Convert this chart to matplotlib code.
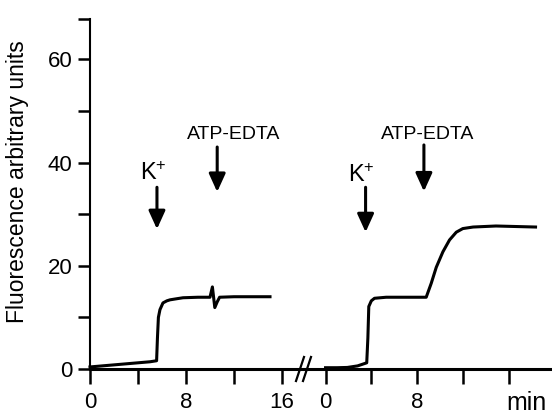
import matplotlib
matplotlib.use('Agg')
import matplotlib.pyplot as plt
from matplotlib.lines import Line2D

plt.rcParams['font.family'] = 'Liberation Sans'
plt.rcParams['mathtext.fontset'] = 'custom'
plt.rcParams['mathtext.rm'] = 'Liberation Sans'
plt.rcParams['mathtext.it'] = 'Liberation Sans'

# run 1: K+ added, then ATP-EDTA (no further change)
t_a = [0, 1, 2, 3, 4, 5, 5.55, 5.62, 5.7, 5.83, 6.08, 6.4, 6.67, 7.2, 7.75,
       9, 10.0, 10.2, 10.4, 10.6, 10.8, 12, 13, 14, 15]
f_a = [0.4, 0.6, 0.8, 1.0, 1.2, 1.4, 1.6, 6.0, 10.0, 11.5, 12.8, 13.2, 13.4, 13.6, 13.8,
       13.9, 13.9, 15.9, 11.9, 13.0, 13.9, 14.0, 14.0, 14.0, 14.0]

# run 2: K+ added, then ATP-EDTA gives a second rise
t_b = [0, 1, 1.9, 2.8, 3.6, 3.7, 3.78, 4.0, 4.28, 5.3, 7, 8.8,
       9.24, 9.68, 10.26, 10.84, 11.43, 12.0, 12.9, 14.9, 18.36]
f_b = [0.25, 0.25, 0.3, 0.6, 1.2, 6.0, 12.1, 13.2, 13.7, 13.9, 13.9, 13.9,
       16.6, 19.7, 22.7, 25.0, 26.5, 27.2, 27.5, 27.7, 27.5]

# additions: (time, arrow tail level, arrow tip level)
k_a = (5.58, 35.2, 27.1)
atp_a = (10.6, 43.0, 34.3)
k_b = (3.5, 35.2, 26.5)
atp_b = (8.6, 43.4, 34.4)

W, H = 552, 415
fig = plt.figure(figsize=(W / 100, H / 100), dpi=100)
bottom = (H - 369) / H
height = (369 - 19.5) / H
ax1 = fig.add_axes([90 / W, bottom, (303.6 - 90) / W, height])
ax2 = fig.add_axes([303.6 / W, bottom, (552 - 303.6) / W, height])

for ax in (ax1, ax2):
    ax.set_ylim(0, 67.7)
    ax.spines['top'].set_visible(False)
    ax.spines['right'].set_visible(False)
    ax.spines['bottom'].set_linewidth(2.2)
    ax.patch.set_visible(False)
    ax.tick_params(axis='x', which='both', direction='out', length=10.5, width=1.8,
                   labelsize=16, pad=6)

ax1.set_xlim(0, 17.8)
ax2.set_xlim(-1.92, 19.8)

ax1.spines['left'].set_linewidth(1.5)
ax1.set_yticks([0, 20, 40, 60])
ax1.set_yticks([10, 30, 50, 67.7], minor=True)
ax1.tick_params(axis='y', which='both', direction='out', length=8.6, width=1.8,
                labelsize=16, pad=4)
ax1.set_xticks([0, 8, 16])
ax1.set_xticks([4, 12], minor=True)
ax1.set_ylabel('Fluorescence arbitrary units', fontsize=16.5)
ax1.yaxis.set_label_coords(-0.285, 0.535)

ax2.spines['left'].set_visible(False)
ax2.set_yticks([])
ax2.set_xticks([0, 8])
ax2.set_xticks([4, 12, 16], minor=True)
ax2.text(17.6, -7.9, 'min', fontsize=18, ha='center', va='baseline')

ax1.plot(t_a, f_a, color='k', lw=2.2, clip_on=False, solid_joinstyle='round')
ax2.plot(t_b, f_b, color='k', lw=2.2, clip_on=False, solid_joinstyle='round')

arrow = dict(arrowstyle='-|>,head_width=0.5,head_length=1.1', lw=2.2, color='k',
             shrinkA=0, shrinkB=0, mutation_scale=10)
for ax, (t, y1, y2) in [(ax1, k_a), (ax1, atp_a), (ax2, k_b), (ax2, atp_b)]:
    ax.annotate('', xy=(t, y2), xytext=(t, y1), arrowprops=arrow, annotation_clip=False)

ax1.text(4.17, 36.6, 'K$^{+}$', fontsize=17, ha='left', va='baseline')
ax2.text(1.92, 36.2, 'K$^{+}$', fontsize=17, ha='left', va='baseline')
ax1.text(12.0, 44.6, 'ATP-EDTA', fontsize=14, ha='center', va='baseline')
ax2.text(8.92, 44.6, 'ATP-EDTA', fontsize=14, ha='center', va='baseline')

# axis break marks
for x0 in (296, 303):
    fig.add_artist(Line2D([x0 / W, (x0 + 8) / W], [(H - 381) / H, (H - 357) / H],
                          color='k', lw=1.6))

fig.savefig('out.png', dpi=100)
